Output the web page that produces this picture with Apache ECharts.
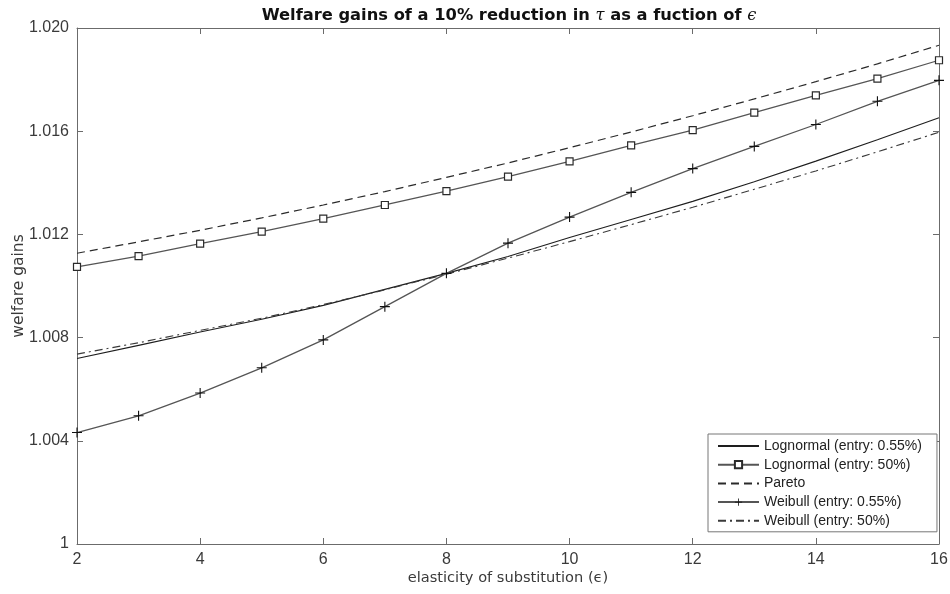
<!DOCTYPE html>
<html>
<head>
<meta charset="utf-8">
<script src="https://cdn.jsdelivr.net/npm/echarts@6/dist/echarts.min.js"></script>
<style>
  html, body { margin: 0; padding: 0; background: #fff; }
  #chart { width: 950px; height: 594px; }
</style>
</head>
<body>
<div id="chart"></div>
<script>
// elasticity of substitution
const epsilon = [2, 3, 4, 5, 6, 7, 8, 9, 10, 11, 12, 13, 14, 15, 16]

// welfare gains per series
const lognormalLow = [1.00719, 1.00770, 1.00822, 1.00871, 1.00925, 1.00987, 1.01049, 1.01114, 1.01188, 1.01258, 1.01328, 1.01404, 1.01484, 1.01567, 1.01652]
const lognormalHigh = [1.01074, 1.01116, 1.01164, 1.01211, 1.01261, 1.01314, 1.01368, 1.01424, 1.01483, 1.01545, 1.01604, 1.01672, 1.01739, 1.01804, 1.01875]
const pareto = [1.01127, 1.01171, 1.01216, 1.01264, 1.01314, 1.01366, 1.01421, 1.01477, 1.01536, 1.01597, 1.01660, 1.01725, 1.01792, 1.01861, 1.01933]
const weibullLow = [1.00432, 1.00497, 1.00585, 1.00683, 1.00791, 1.00920, 1.01049, 1.01166, 1.01267, 1.01363, 1.01455, 1.01541, 1.01626, 1.01716, 1.01797]
const weibullHigh = [1.00736, 1.00780, 1.00828, 1.00875, 1.00928, 1.00985, 1.01046, 1.01108, 1.01172, 1.01238, 1.01305, 1.01375, 1.01446, 1.01520, 1.01596]

const seriesNames = [
  'Lognormal (entry: 0.55%)',
  'Lognormal (entry: 50%)',
  'Pareto',
  'Weibull (entry: 0.55%)',
  'Weibull (entry: 50%)'
]

const pairs = arr => epsilon.map((e, i) => [e, arr[i]])

const plusPath = 'path://M-0.11,-1H0.11V-0.11H1V0.11H0.11V1H-0.11V0.11H-1V-0.11H-0.11Z'
const font = '"Liberation Sans", Arial, sans-serif'
const wideFont = '"DejaVu Sans", sans-serif'
const axisColor = '#6b6b6b'
const textColor = '#3a3a3a'
const noMarker = { color: 'rgba(0,0,0,0)', borderWidth: 0 }

const chart = echarts.init(document.getElementById('chart'))

// 坐标轴公共配置
const boxAxis = {
  axisLine: { show: true, onZero: false, lineStyle: { color: axisColor, width: 1 } },
  axisTick: { show: true, inside: true, length: 6, lineStyle: { color: axisColor } },
  splitLine: { show: false }
}

const option = {
  animation: false,
  backgroundColor: '#fff',
  title: {
    text: 'Welfare gains of a 10% reduction in {i|τ} as a fuction of {i|ϵ}',
    left: 504,
    textAlign: 'center',
    top: 3,
    textStyle: {
      fontFamily: wideFont,
      fontSize: 16.3,
      fontWeight: 'bold',
      color: '#111',
      rich: {
        i: { fontFamily: '"DejaVu Serif", serif', fontStyle: 'italic', fontSize: 16.3, fontWeight: 'normal', color: '#111' }
      }
    }
  },
  grid: { left: 77, right: 11, top: 28, bottom: 50, outerBoundsMode: 'none', containLabel: false },
  legend: {
    orient: 'vertical',
    left: 708,
    top: 434,
    padding: [5, 15, 4, 9],
    itemWidth: 41,
    itemHeight: 9,
    itemGap: 4.7,
    backgroundColor: '#fff',
    borderColor: '#777',
    borderWidth: 1,
    borderRadius: 0,
    textStyle: { fontFamily: font, fontSize: 14, color: '#222', lineHeight: 14 },
    data: seriesNames
  },
  xAxis: [
    {
      ...boxAxis,
      type: 'value',
      min: 2,
      max: 16,
      interval: 2,
      position: 'bottom',
      name: 'elasticity of substitution (ϵ)',
      nameLocation: 'middle',
      nameGap: 27,
      nameMoveOverlap: false,
      nameTextStyle: { fontFamily: wideFont, fontSize: 14.6, color: textColor },
      axisLabel: { fontFamily: font, fontSize: 16, color: textColor, margin: 8 }
    },
    {
      ...boxAxis,
      type: 'value',
      min: 2,
      max: 16,
      interval: 2,
      position: 'top',
      axisLabel: { show: false }
    }
  ],
  yAxis: [
    {
      ...boxAxis,
      type: 'value',
      min: 1,
      max: 1.02,
      interval: 0.004,
      position: 'left',
      name: 'welfare gains',
      nameLocation: 'middle',
      nameGap: 50,
      nameMoveOverlap: false,
      nameTextStyle: { fontFamily: wideFont, fontSize: 15.5, color: textColor },
      axisLabel: {
        fontFamily: font,
        fontSize: 16,
        color: textColor,
        margin: 8,
        formatter: v => (Math.abs(v - 1) < 1e-9 ? '1' : v.toFixed(3))
      }
    },
    {
      ...boxAxis,
      type: 'value',
      min: 1,
      max: 1.02,
      interval: 0.004,
      position: 'right',
      axisLabel: { show: false }
    }
  ],
  series: [
    {
      name: seriesNames[0],
      type: 'line',
      data: pairs(lognormalLow),
      symbol: 'circle',
      showSymbol: false,
      lineStyle: { color: '#1e1e1e', width: 1.1 },
      itemStyle: noMarker,
      z: 3
    },
    {
      name: seriesNames[1],
      type: 'line',
      data: pairs(lognormalHigh),
      symbol: 'rect',
      symbolSize: 7,
      lineStyle: { color: '#555', width: 1.3 },
      itemStyle: { color: '#fff', borderColor: '#2a2a2a', borderWidth: 1.2 },
      z: 4
    },
    {
      name: seriesNames[2],
      type: 'line',
      data: pairs(pareto),
      symbol: 'circle',
      showSymbol: false,
      lineStyle: { color: '#2a2a2a', width: 1.2, type: [8, 5] },
      itemStyle: noMarker,
      z: 3
    },
    {
      name: seriesNames[3],
      type: 'line',
      data: pairs(weibullLow),
      symbol: plusPath,
      symbolSize: 10,
      lineStyle: { color: '#555', width: 1.3 },
      itemStyle: { color: '#111' },
      z: 4
    },
    {
      name: seriesNames[4],
      type: 'line',
      data: pairs(weibullHigh),
      symbol: 'circle',
      showSymbol: false,
      lineStyle: { color: '#3a3a3a', width: 1.1, type: [8, 4, 2, 4] },
      itemStyle: noMarker,
      z: 3
    }
  ]
}

chart.setOption(option)
</script>
</body>
</html>
